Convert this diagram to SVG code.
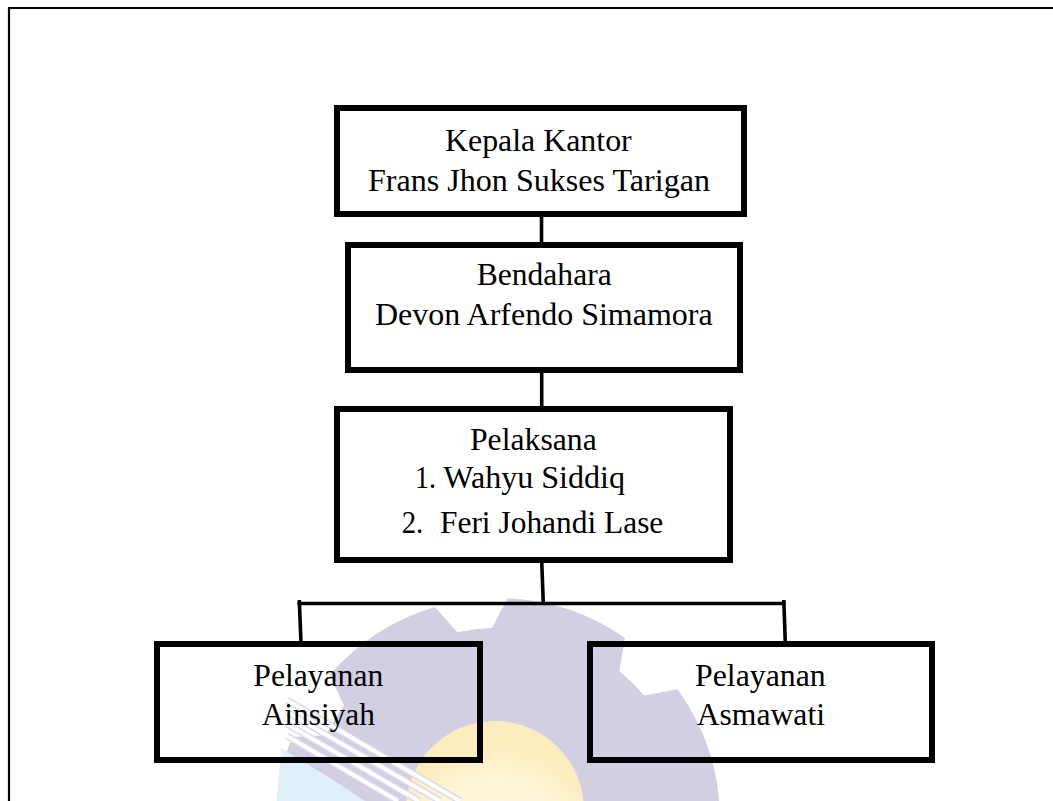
<svg xmlns="http://www.w3.org/2000/svg" width="1053" height="801" viewBox="0 0 1053 801">
<defs>
<radialGradient id="sun" cx="50%" cy="75%" r="60%">
<stop offset="0" stop-color="#fffcf0"/>
<stop offset="0.7" stop-color="#fef5d6"/>
<stop offset="1" stop-color="#fcedbf"/>
</radialGradient>
</defs>
<style>
.box{fill:none;stroke:#000;stroke-width:6}
.con{fill:none;stroke:#000;stroke-width:3.6;stroke-linecap:butt}
.t{font-family:"Liberation Serif","Times New Roman",serif;font-size:32px;fill:#000}
.frame{fill:none;stroke:#000;stroke-width:2.2}
</style>
<rect width="1053" height="801" fill="#fff"/>
<g id="watermark">
<path d="M 276 900 L 276 820 A 222 222 0 0 1 292.0 737.2 L 325.7 735.2 A 192 192 0 0 1 343.9 705.5 L 329.9 674.9 A 222 222 0 0 1 434.9 607.1 L 457.4 632.3 A 192 192 0 0 1 492.0 628.1 L 507.7 598.2 A 222 222 0 0 1 625.0 637.9 L 619.3 671.1 A 192 192 0 0 1 644.2 695.6 L 677.4 689.2 A 222 222 0 0 1 719.5 805.7 L 720 900 Z" fill="#d3cfe3"/>
<path d="M 277 801 L 281 748 L 330 778 L 365 801 Z" fill="#e0f0fa"/>
<circle cx="495" cy="810" r="89" fill="url(#sun)"/>
<g stroke="#dcd8ea" stroke-width="7" fill="none">
<line x1="287" y1="700" x2="460" y2="801"/>
<line x1="287" y1="712" x2="440" y2="801"/>
<line x1="287" y1="724" x2="419" y2="801"/>
<line x1="287" y1="736" x2="398" y2="801"/>
</g>
<g stroke="#ffffff" stroke-width="4" fill="none">
<line x1="287" y1="700" x2="460" y2="801"/>
<line x1="287" y1="712" x2="440" y2="801"/>
<line x1="287" y1="724" x2="419" y2="801"/>
<line x1="287" y1="736" x2="398" y2="801"/>
</g>
</g>
<g id="frame">
<line class="frame" x1="8" y1="8" x2="1053" y2="8"/>
<line class="frame" x1="9" y1="7" x2="9" y2="801"/>
</g>
<g id="connectors">
<line class="con" x1="541.5" y1="211" x2="541.5" y2="248"/>
<line class="con" x1="541.7" y1="370" x2="541.7" y2="411"/>
<line class="con" x1="541.7" y1="561" x2="543.3" y2="603.5"/>
<line class="con" x1="297.5" y1="603.5" x2="785.5" y2="603.5"/>
<line class="con" x1="299.3" y1="600" x2="301" y2="643"/>
<line class="con" x1="783.8" y1="600" x2="785.3" y2="643"/>
</g>
<g id="kepala">
<rect class="box" x="337" y="108" width="407" height="106"/>
<text class="t" x="445" y="150.7" textLength="186.7" lengthAdjust="spacingAndGlyphs">Kepala Kantor</text>
<text class="t" x="368" y="190.7" textLength="342" lengthAdjust="spacingAndGlyphs">Frans Jhon Sukses Tarigan</text>
</g>
<g id="bendahara">
<rect class="box" x="348" y="245" width="392" height="125"/>
<text class="t" x="476.7" y="285" textLength="135" lengthAdjust="spacingAndGlyphs">Bendahara</text>
<text class="t" x="375" y="325" textLength="337.7" lengthAdjust="spacingAndGlyphs">Devon Arfendo Simamora</text>
</g>
<g id="pelaksana">
<rect class="box" x="337" y="409" width="393" height="151"/>
<text class="t" x="470" y="450" textLength="126.7" lengthAdjust="spacingAndGlyphs">Pelaksana</text>
<text class="t" x="415" y="488.3" textLength="21" lengthAdjust="spacingAndGlyphs">1.</text>
<text class="t" x="443.3" y="488.3" textLength="181.7" lengthAdjust="spacingAndGlyphs">Wahyu Siddiq</text>
<text class="t" x="401.7" y="532.7" textLength="21.6" lengthAdjust="spacingAndGlyphs">2.</text>
<text class="t" x="440" y="532.7" textLength="223.3" lengthAdjust="spacingAndGlyphs">Feri Johandi Lase</text>
</g>
<g id="pelayanan-ainsiyah">
<rect class="box" x="157" y="644" width="323" height="116"/>
<text class="t" x="253.3" y="685.7" textLength="130" lengthAdjust="spacingAndGlyphs">Pelayanan</text>
<text class="t" x="261.7" y="725" textLength="113.3" lengthAdjust="spacingAndGlyphs">Ainsiyah</text>
</g>
<g id="pelayanan-asmawati">
<rect class="box" x="590" y="644" width="342" height="116"/>
<text class="t" x="695" y="685.7" textLength="130.7" lengthAdjust="spacingAndGlyphs">Pelayanan</text>
<text class="t" x="696.7" y="725" textLength="128.3" lengthAdjust="spacingAndGlyphs">Asmawati</text>
</g>
</svg>
